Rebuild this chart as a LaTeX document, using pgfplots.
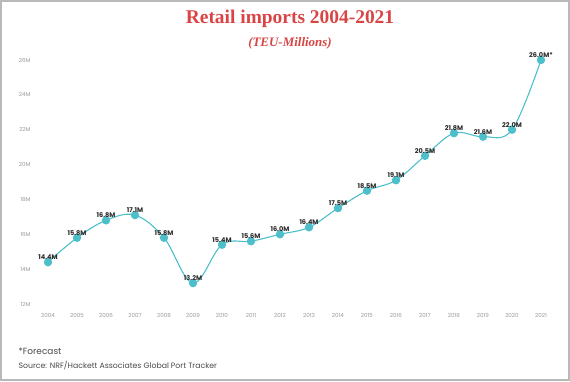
\documentclass[border=0pt]{standalone}
\usepackage{pgfplots}
\pgfplotsset{compat=1.18}
\usepackage{fontspec}
\setmainfont{Liberation Serif}
\setsansfont{Poppins}
\definecolor{titlered}{HTML}{D94545}
\definecolor{teal}{HTML}{4CBFCB}
\definecolor{ticklab}{HTML}{9A9A9A}
\definecolor{lab}{HTML}{2A2A2A}
\begin{document}
\begin{tikzpicture}[x=1bp,y=1bp]
\path[use as bounding box] (0,0) rectangle (570,381);
\draw[line width=1.5bp, draw=gray!55] (1,1) rectangle (569,380);
\node[text=titlered, font=\fontsize{19.5}{22}\selectfont\bfseries] at (290,362) {Retail imports 2004-2021};
\node[text=titlered, font=\fontsize{13}{15}\selectfont\itshape\bfseries] at (290,338) {(TEU-Millions)};
\node[anchor=west, text=lab!85, font=\sffamily\fontsize{9}{11}\selectfont] at (15,30) {*Forecast};
\node[anchor=west, text=lab!85, font=\sffamily\fontsize{7.8}{10}\selectfont] at (15,16) {Source: NRF/Hackett Associates Global Port Tracker};
\begin{axis}[
  at={(48bp,77bp)}, anchor=south west,
  scale only axis, width=493bp, height=244bp,
  xmin=2004, xmax=2021, ymin=12, ymax=26,
  clip=false,
  axis line style={draw=none},
  major tick length=0pt,
  xtick={2004,...,2021},
  ytick={12,14,...,26},
  xticklabel style={/pgf/number format/1000 sep={}, font=\sffamily\fontsize{5.6}{7}\selectfont, text=ticklab, yshift=-6bp},
  yticklabel={\pgfmathprintnumber{\tick}M},
  yticklabel style={font=\sffamily\fontsize{5.6}{7}\selectfont, text=ticklab, xshift=-14bp},
  /pgf/number format/assume math mode=true,
  nodes near coords,
  point meta=explicit symbolic,
  every node near coord/.append style={font=\sffamily\bfseries\fontsize{6.6}{8}\selectfont, text=lab, anchor=south, yshift=-1.5bp},
]
\addplot[teal, line width=1.1bp, smooth, tension=0.6, mark=*, mark size=3.6bp, mark options={fill=teal, draw=teal}]
table[meta=label] {
x y label
2004 14.4 14.4M
2005 15.8 15.8M
2006 16.8 16.8M
2007 17.1 17.1M
2008 15.8 15.8M
2009 13.2 13.2M
2010 15.4 15.4M
2011 15.6 15.6M
2012 16.0 16.0M
2013 16.4 16.4M
2014 17.5 17.5M
2015 18.5 18.5M
2016 19.1 19.1M
2017 20.5 20.5M
2018 21.8 21.8M
2019 21.6 21.6M
2020 22.0 22.0M
2021 26.0 26.0M*
};
\end{axis}
\end{tikzpicture}
\end{document}
